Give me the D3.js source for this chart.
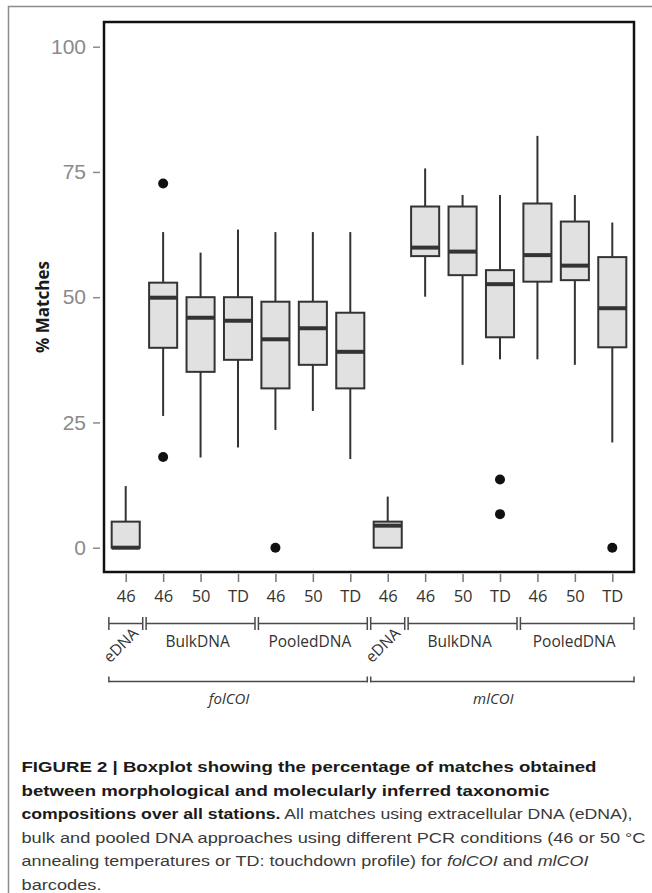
<!DOCTYPE html>
<html>
<head>
<meta charset="utf-8">
<script src="https://cdn.jsdelivr.net/npm/d3@7/dist/d3.min.js"></script>
<style>
  html, body { margin: 0; padding: 0; background: #fff; }
  svg { display: block; }
</style>
</head>
<body>
<svg id="chart" width="652" height="893"></svg>
<script>
// ---------------- data ----------------
const categories = ["46","46","50","TD","46","50","TD","46","46","50","TD","46","50","TD"];
const whiskerLow  = [0,    26.3, 18.0, 20.0, 23.5, 27.3, 17.7, 0,   50.1, 36.5, 37.6, 37.6, 36.5, 21.0];
const q1          = [0,    39.9, 35.1, 37.5, 31.8, 36.5, 31.8, 0,   58.2, 54.4, 42.0, 53.1, 53.4, 40.0];
const medians     = [0,    49.9, 45.9, 45.3, 41.6, 43.8, 39.1, 4.4, 59.9, 59.1, 52.6, 58.4, 56.3, 47.8];
const q3          = [5.2,  52.9, 50.0, 50.0, 49.1, 49.1, 46.9, 5.2, 68.1, 68.1, 55.4, 68.7, 65.1, 58.0];
const whiskerHigh = [12.3, 63.0, 58.9, 63.5, 63.0, 63.0, 63.0, 10.2, 75.7, 70.4, 70.4, 82.2, 70.4, 64.9];
const outlierIndex = [1, 1, 4, 10, 10, 13];
const outlierValue = [72.7, 18.1, 0, 13.6, 6.7, 0];
const yTicks = [0, 25, 50, 75, 100];

const groupNames = ["eDNA","BulkDNA","PooledDNA","eDNA","BulkDNA","PooledDNA"];
const groupFirst = [0, 1, 4, 7, 8, 11];
const groupLast  = [0, 3, 6, 7, 10, 13];
const markerNames = ["folCOI", "mlCOI"];
const markerFirst = [0, 7];
const markerLast  = [6, 13];

// ---------------- layout ----------------
const svg = d3.select("#chart");
const P = { left: 104, right: 634, top: 22, bottom: 572 };

const x = d3.scalePoint().domain(d3.range(categories.length)).range([P.left, P.right]).padding(0.58);
const step = x.step();
const y = d3.scaleLinear().domain([0, 100]).range([547.7, 46.7]);
const boxW = step * 0.75;
const ink = "#333";

// figure border (left and top)
svg.append("path").attr("d", "M8.5,893 V6.5 H652").attr("fill", "none").attr("stroke", "#8c8c8c").attr("stroke-width", 1.5);

// plot frame
svg.append("rect").attr("x", P.left).attr("y", P.top).attr("width", P.right - P.left).attr("height", P.bottom - P.top)
  .attr("fill", "none").attr("stroke", "#111").attr("stroke-width", 2.5);

// y axis
const yAxis = svg.append("g").attr("transform", `translate(${P.left - 4},0)`)
  .call(d3.axisLeft(y).tickValues(yTicks).tickSize(7).tickPadding(7).tickFormat(d3.format("d")));
yAxis.select(".domain").remove();
yAxis.selectAll(".tick line").attr("stroke", "#8a8a8a").attr("stroke-width", 1.5);
yAxis.selectAll(".tick text").attr("fill", "#8a8a8a").style("font-family", "'Liberation Sans', Arial, sans-serif").style("font-size", "21px");

// x axis
const xAxis = svg.append("g").attr("transform", `translate(0,${P.bottom + 2})`)
  .call(d3.axisBottom(x).tickSize(8).tickPadding(8).tickFormat(i => categories[i]));
xAxis.select(".domain").remove();
xAxis.selectAll(".tick line").attr("stroke", "#777").attr("stroke-width", 1.5);
xAxis.selectAll(".tick text").attr("fill", "#333").style("font-family", "'Open Sans', sans-serif").style("font-size", "16.5px");

// y label
svg.append("text").attr("transform", "translate(49,307) rotate(-90)").attr("text-anchor", "middle")
  .style("font-family", "'Open Sans', sans-serif").style("font-weight", "bold").style("font-size", "17px")
  .attr("fill", "#1a1a1a").text("% Matches");

// boxes
const boxes = svg.append("g");
categories.forEach((c, i) => {
  const cx = x(i);
  const g = boxes.append("g");
  g.append("line").attr("x1", cx).attr("x2", cx).attr("y1", y(whiskerHigh[i])).attr("y2", y(q3[i]))
    .attr("stroke", ink).attr("stroke-width", 2);
  g.append("line").attr("x1", cx).attr("x2", cx).attr("y1", y(q1[i])).attr("y2", y(whiskerLow[i]))
    .attr("stroke", ink).attr("stroke-width", 2);
  g.append("rect").attr("x", cx - boxW / 2).attr("y", y(q3[i])).attr("width", boxW)
    .attr("height", Math.max(0, y(q1[i]) - y(q3[i])))
    .attr("fill", "#e1e1e1").attr("stroke", ink).attr("stroke-width", 2);
  g.append("line").attr("x1", cx - boxW / 2).attr("x2", cx + boxW / 2).attr("y1", y(medians[i])).attr("y2", y(medians[i]))
    .attr("stroke", ink).attr("stroke-width", 4);
});

// outliers
svg.append("g").selectAll("circle").data(outlierIndex).join("circle")
  .attr("cx", d => x(d)).attr("cy", (d, k) => y(outlierValue[k])).attr("r", 5)
  .attr("fill", "#111");

// group brackets (level 1)
const lineCol = "#4a4a4a";
const bY = 623.5;
const edgeL = x(0) - 0.45 * step;
const edgeR = x(categories.length - 1) + 0.58 * step;
function segEnds(first, last) {
  const a = first === 0 ? edgeL : (x(first - 1) + x(first)) / 2 + 1.7;
  const b = last === categories.length - 1 ? edgeR : (x(last) + x(last + 1)) / 2 - 1.7;
  return [a, b];
}
const br = svg.append("g").attr("stroke", lineCol).attr("stroke-width", 1.5).attr("fill", "none");
groupNames.forEach((name, k) => {
  const [a, b] = segEnds(groupFirst[k], groupLast[k]);
  br.append("path").attr("d", `M${a},${bY - 6.5} V${bY + 6.5} M${a},${bY} H${b} M${b},${bY - 6.5} V${bY + 6.5}`);
  const mid = (a + b) / 2;
  if (name === "eDNA") {
    svg.append("text").attr("transform", `translate(${mid - 5},645) rotate(-45)`)
      .attr("text-anchor", "middle").attr("dy", "0.35em")
      .style("font-family", "'Open Sans', sans-serif").style("font-size", "15.5px").attr("fill", "#333").text(name);
  } else {
    svg.append("text").attr("x", mid - 3).attr("y", 642).attr("text-anchor", "middle").attr("dy", "0.35em")
      .style("font-family", "'Open Sans', sans-serif").style("font-size", "15.5px").attr("fill", "#333").text(name);
  }
});

// marker brackets (level 2)
const mY = 681.5;
markerNames.forEach((name, k) => {
  const [a, b] = segEnds(markerFirst[k], markerLast[k]);
  br.append("path").attr("d", `M${a},${mY - 5} V${mY + 1} M${a},${mY} H${b} M${b},${mY - 5} V${mY + 1}`);
  svg.append("text").attr("x", (a + b) / 2 - 9).attr("y", 699).attr("text-anchor", "middle").attr("dy", "0.35em")
    .style("font-family", "'Open Sans', sans-serif").style("font-style", "italic").style("font-size", "15px")
    .attr("fill", "#333").text(name);
});

// caption
const cap = svg.append("g").style("font-family", "'Liberation Sans', Arial, sans-serif").style("font-size", "15.5px");
const capLines = [
  { y: 772, w: 575, parts: [["FIGURE 2 | Boxplot showing the percentage of matches obtained", "bold", "normal"]] },
  { y: 795.5, w: 528, parts: [["between morphological and molecularly inferred taxonomic", "bold", "normal"]] },
  { y: 819, w: 611, parts: [["compositions over all stations.", "bold", "normal"], [" All matches using extracellular DNA (eDNA),", "normal", "normal"]] },
  { y: 842.5, w: 624, parts: [["bulk and pooled DNA approaches using different PCR conditions (46 or 50 °C", "normal", "normal"]] },
  { y: 866, w: 567, parts: [["annealing temperatures or TD: touchdown profile) for ", "normal", "normal"], ["folCOI", "normal", "italic"], [" and ", "normal", "normal"], ["mlCOI", "normal", "italic"]] },
  { y: 889.5, w: 80, parts: [["barcodes.", "normal", "normal"]] }
];
capLines.forEach(l => {
  const t = cap.append("text").attr("x", 21.5).attr("y", l.y).attr("textLength", l.w).attr("lengthAdjust", "spacingAndGlyphs");
  l.parts.forEach(p => {
    t.append("tspan").text(p[0]).style("font-weight", p[1]).style("font-style", p[2])
      .attr("fill", p[1] === "bold" ? "#1a1a1a" : "#3a3a3a");
  });
});
</script>
</body>
</html>
